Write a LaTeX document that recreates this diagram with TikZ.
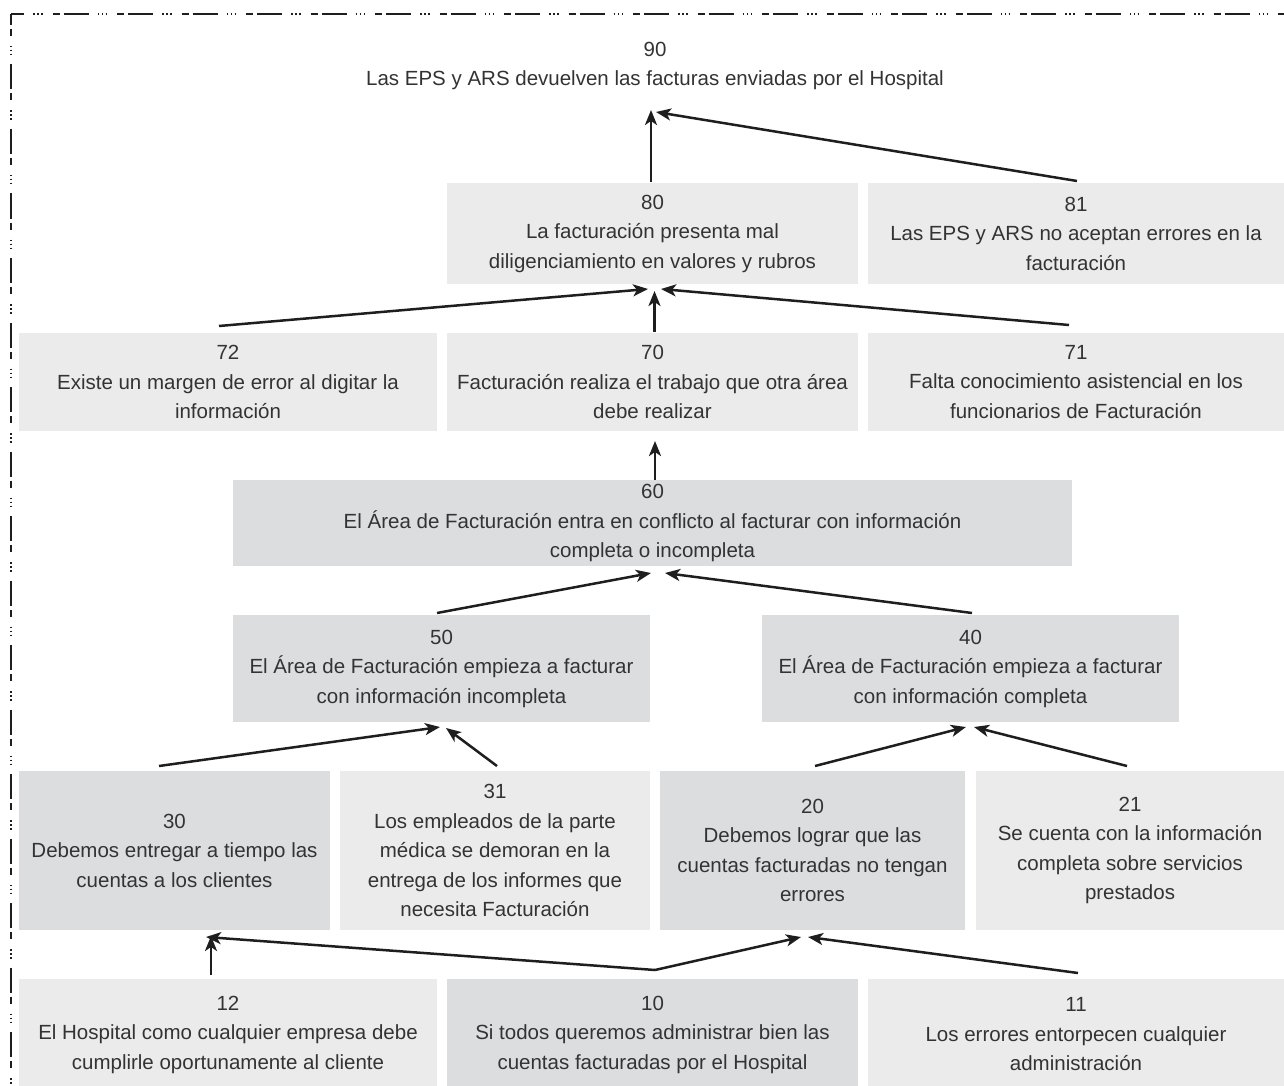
\documentclass[tikz,border=0pt]{standalone}
\usepackage{fontspec}
\setmainfont{Liberation Sans}
\usetikzlibrary{arrows.meta,calc}
\definecolor{boxlight}{HTML}{EBEBEC}
\definecolor{boxdark}{HTML}{DCDDDE}
\definecolor{txt}{HTML}{333333}
\definecolor{ink}{HTML}{1E1E1E}
\begin{document}
\begin{tikzpicture}[x=1pt,y=-1pt,
  bx/.style={inner sep=0pt, outer sep=0pt, align=center, text=txt,
             font=\fontsize{20.5}{29.5}\selectfont},
  lt/.style={bx, fill=boxlight},
  dk/.style={bx, fill=boxdark},
  arr/.style={draw=ink, line width=2.5pt, -{Stealth[length=15pt,width=12pt,inset=4pt]}},
  frame/.style={draw=ink, line width=2.2pt}]
\useasboundingbox (0,0) rectangle (1284,1086);
\clip (0,0) rectangle (1284,1086);

% frame
\coordinate (fc) at (11,14);
\coordinate (fr) at (1300,14);
\coordinate (fb) at (11,1100);
\draw[frame, dash pattern=on 25pt off 9pt on 1.5pt off 2.5pt on 1.5pt off 2.5pt on 1.5pt off 10pt on 7pt off 4pt, dash phase=12pt] (fc) -- (fr);
\draw[frame, dash pattern=on 25pt off 4pt on 7pt off 10pt on 1.5pt off 2.5pt on 1.5pt off 2.5pt on 1.5pt off 9pt, dash phase=14pt] (fc) -- (fb);

% nodes
\node[bx, minimum width=800pt, minimum height=70pt] (n90) at (655,66)
  {90\\Las EPS y ARS devuelven las facturas enviadas por el Hospital};

\node[lt, minimum width=411pt, minimum height=101pt] (n80) at (652.5,233.5)
  {80\\La facturación presenta mal\\diligenciamiento en valores y rubros};
\node[lt, minimum width=416pt, minimum height=101pt] (n81) at (1076,233.5)
  {81\\Las EPS y ARS no aceptan errores en la\\facturación};

\node[lt, minimum width=418pt, minimum height=98pt] (n72) at (228,382)
  {72\\Existe un margen de error al digitar la\\información};
\node[lt, minimum width=411pt, minimum height=98pt] (n70) at (652.5,382)
  {70\\Facturación realiza el trabajo que otra área\\debe realizar};
\node[lt, minimum width=416pt, minimum height=98pt] (n71) at (1076,382)
  {71\\Falta conocimiento asistencial en los\\funcionarios de Facturación};

\node[dk, minimum width=839pt, minimum height=86pt] (n60) at (652.5,523)
  {60\\El Área de Facturación entra en conflicto al facturar con información\\completa o incompleta};

\node[dk, minimum width=417pt, minimum height=107pt] (n50) at (441.5,668.5)
  {50\\El Área de Facturación empieza a facturar\\con información incompleta};
\node[dk, minimum width=417pt, minimum height=107pt] (n40) at (970.5,668.5)
  {40\\El Área de Facturación empieza a facturar\\con información completa};

\node[dk, minimum width=311pt, minimum height=159pt] (n30) at (174.5,850.5)
  {30\\Debemos entregar a tiempo las\\cuentas a los clientes};
\node[lt, minimum width=310pt, minimum height=159pt] (n31) at (495,850.5)
  {31\\Los empleados de la parte\\médica se demoran en la\\entrega de los informes que\\necesita Facturación};
\node[dk, minimum width=305pt, minimum height=159pt] (n20) at (812.5,850.5)
  {20\\Debemos lograr que las\\cuentas facturadas no tengan\\errores};
\node[lt, minimum width=308pt, minimum height=159pt] (n21) at (1130,850.5)
  {21\\Se cuenta con  la información\\completa sobre servicios\\prestados};

\node[lt, minimum width=418pt, minimum height=111pt] (n12) at (228,1034.5)
  {12\\El Hospital como cualquier empresa debe\\cumplirle oportunamente al cliente};
\node[dk, minimum width=411pt, minimum height=111pt] (n10) at (652.5,1034.5)
  {10\\Si todos queremos administrar bien las\\cuentas facturadas por el Hospital};
\node[lt, minimum width=416pt, minimum height=111pt] (n11) at (1076,1034.5)
  {11\\Los errores entorpecen cualquier\\administración};

% connectors
\draw[arr] ($(n80.north)+(-1.5,-1)$) -- ($(n90.south)+(-4,9)$);
\draw[arr] ($(n81.north)+(1,-2)$) -- ($(n90.south)+(1,11)$);

\draw[arr] ($(n70.north)+(2,-1)$) -- ($(n80.south)+(2,7)$);
\draw[arr] ($(n72.north)+(-9,-7)$) -- ($(n80.south)+(-4.5,5)$);
\draw[arr] ($(n71.north)+(-7,-8)$) -- ($(n80.south)+(8.5,5)$);

\draw[arr] ($(n60.north)+(2.5,0)$) -- ($(n70.south)+(2.5,10)$);

\draw[arr] ($(n50.north)+(-4.5,-2)$) -- ($(n60.south)+(-1.5,7)$);
\draw[arr] ($(n40.north)+(1.5,-2)$) -- ($(n60.south)+(12.5,7)$);

\draw[arr] ($(n30.north)+(-15.5,-5)$) -- ($(n50.south)+(-1.5,5)$);
\draw[arr] ($(n31.north)+(2,-5)$) -- ($(n50.south)+(4.5,6)$);
\draw[arr] ($(n20.north)+(2.5,-5)$) -- ($(n40.south)+(-4.5,5)$);
\draw[arr] ($(n21.north)+(-3,-5)$) -- ($(n40.south)+(3.5,5)$);

\draw[arr] ($(n12.north)+(-17,-4)$) -- ($(n30.south)+(36.5,6)$);
\draw[arr] ($(n10.north)+(2.5,-9)$) -- ($(n30.south)+(31.5,7)$);
\draw[arr] ($(n10.north)+(2.5,-9)$) -- ($(n20.south)+(-11.5,7)$);
\draw[arr] ($(n11.north)+(2,-6)$) -- ($(n20.south)+(-4.5,7)$);
\end{tikzpicture}
\end{document}
